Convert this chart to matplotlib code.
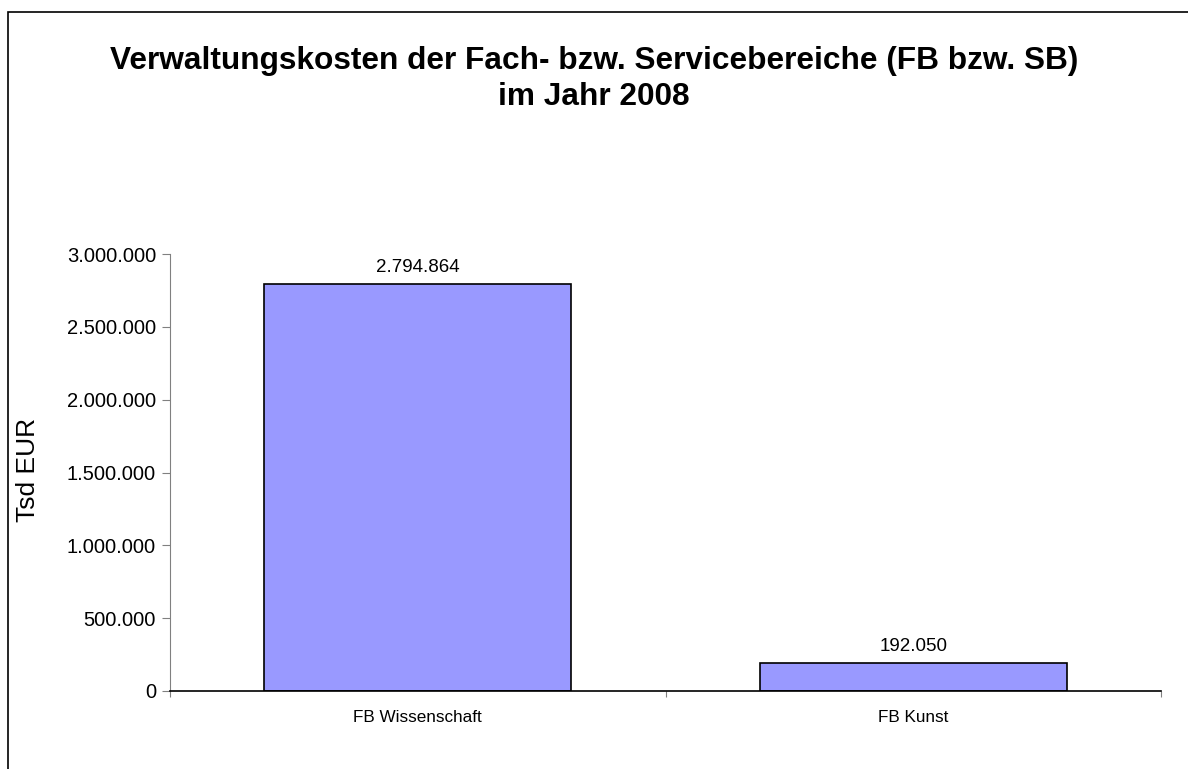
import matplotlib.pyplot as plt
from matplotlib.patches import Rectangle
from matplotlib.ticker import FuncFormatter

plt.rcParams['font.family'] = ['Liberation Sans', 'DejaVu Sans']

# Daten
kategorien = ['FB Wissenschaft', 'FB Kunst']
kosten = [2794864, 192050]
y_ticks = [0, 500000, 1000000, 1500000, 2000000, 2500000, 3000000]


def tsd(v, pos=None):
    return f"{int(round(v)):,}".replace(',', '.')


fig = plt.figure(figsize=(11.88, 7.69), dpi=100)
ax = fig.add_axes([170/1188, 1 - 691/769, (1161 - 170)/1188, (691 - 254)/769])

# Rahmen um das Diagramm
fig.patches.append(Rectangle((8/1188, -0.1), 1.2, 1 - 12/769 + 0.1,
                             transform=fig.transFigure, fill=False,
                             edgecolor='black', linewidth=1.2))

x = range(len(kategorien))
bars = ax.bar(x, kosten, width=0.62, color='#9999FF', edgecolor='black', linewidth=1.2)
for xi, v in zip(x, kosten):
    ax.text(xi, v + 55000, tsd(v), ha='center', va='bottom', fontsize=13.5)

ax.set_xlim(-0.5, len(kategorien) - 0.5)
ax.set_ylim(0, 3000000)
ax.set_yticks(y_ticks)
ax.yaxis.set_major_formatter(FuncFormatter(tsd))
ax.tick_params(axis='y', labelsize=14.5, length=6, color='#808080', pad=4)

ax.set_xticks([-0.5, 0.5, 1.5])
ax.set_xticklabels([])
ax.set_xticks(list(x), minor=True)
ax.set_xticklabels(kategorien, minor=True, fontsize=12.3)
ax.tick_params(axis='x', which='major', length=4, color='#808080')
ax.tick_params(axis='x', which='minor', length=0, pad=14)

for s in ['top', 'right']:
    ax.spines[s].set_visible(False)
ax.spines['left'].set_color('#808080')
ax.spines['bottom'].set_color('black')
ax.spines['bottom'].set_linewidth(1.2)

fig.text(28/1188, 1 - 470/769, 'Tsd EUR', rotation=90, ha='center', va='center', fontsize=19)

fig.text(0.5, 1 - 79/769, 'Verwaltungskosten der Fach- bzw. Servicebereiche (FB bzw. SB)\nim Jahr 2008',
         ha='center', va='center', fontsize=22.8, fontweight='bold', linespacing=1.3)

fig.savefig('out.png', dpi=100)
